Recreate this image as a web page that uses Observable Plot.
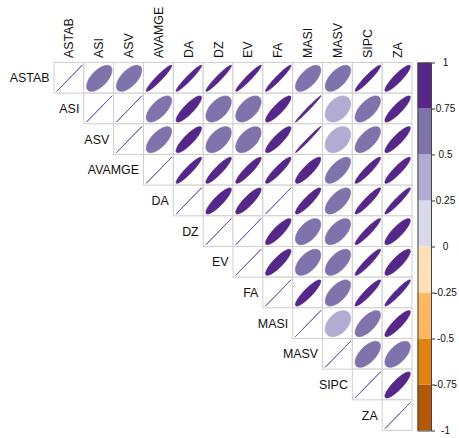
<!DOCTYPE html>
<html>
<head>
<meta charset="utf-8">
<script src="https://cdn.jsdelivr.net/npm/d3@7"></script>
<script src="https://cdn.jsdelivr.net/npm/@observablehq/plot@0.6"></script>
<style>
  body { margin: 0; background: white; }
  #chart { position: relative; width: 459px; height: 438px; }
  #chart svg { position: absolute; left: 0; top: 0; }
</style>
</head>
<body>
<div id="chart"></div>
<script>
// Variable names, in matrix order
const variables = ["ASTAB", "ASI", "ASV", "AVAMGE", "DA", "DZ", "EV", "FA", "MASI", "MASV", "SIPC", "ZA"];

// Upper-triangle correlations, one row per variable (from its diagonal to ZA)
const corASTAB  = [1, 0.62, 0.62, 0.95, 0.96, 0.96, 0.96, 0.96, 0.64, 0.62, 0.95, 0.90];
const corASI    = [1, 1.00, 0.66, 0.86, 0.55, 0.55, 0.87, 0.99, 0.40, 0.64, 0.88];
const corASV    = [1, 0.66, 0.86, 0.56, 0.56, 0.87, 0.99, 0.40, 0.64, 0.88];
const corAVAMGE = [1, 0.93, 0.91, 0.91, 0.92, 0.86, 0.68, 0.93, 0.91];
const corDA     = [1, 0.87, 0.87, 1.00, 0.90, 0.65, 0.93, 0.95];
const corDZ     = [1, 1.00, 0.86, 0.57, 0.60, 0.94, 0.85];
const corEV     = [1, 0.86, 0.57, 0.60, 0.94, 0.85];
const corFA     = [1, 0.89, 0.62, 0.93, 0.95];
const corMASI   = [1, 0.42, 0.68, 0.88];
const corMASV   = [1, 0.62, 0.60];
const corSIPC   = [1, 0.86];
const corZA     = [1];

const corRows = [corASTAB, corASI, corASV, corAVAMGE, corDA, corDZ, corEV, corFA, corMASI, corMASV, corSIPC, corZA];

// Colour key: bin edges, PuOr palette from -1 to 1, and tick labels
const breaks = [-1, -0.75, -0.5, -0.25, 0, 0.25, 0.5, 0.75, 1];
const palette = ["#b35806", "#e08214", "#fdb863", "#fee0b6", "#d8daeb", "#b2abd2", "#8073ac", "#542788"];
const tickLabels = ["-1", "-0.75", "-0.5", "-0.25", "0", "0.25", "0.5", "0.75", "1"];

const font = "'Liberation Sans', Arial, Helvetica, sans-serif";

// One record per upper-triangle cell
const cells = [];
corRows.forEach((row, i) => row.forEach((r, k) => cells.push({i, j: i + k, r})));

// Ellipse outline for correlation r, centred in its cell (corrplot style)
const ellipsePts = [];
const N = 99;
for (const c of cells) {
  const d = Math.acos(Math.max(-1, Math.min(1, c.r)));
  for (let n = 0; n < N; n++) {
    const t = (2 * Math.PI * n) / (N - 1);
    ellipsePts.push({
      key: `${c.i}-${c.j}`,
      r: c.r,
      x: c.j + 0.5 + 0.85 * Math.cos(t + d / 2) / 2,
      y: c.i + 0.5 - 0.85 * Math.cos(t - d / 2) / 2
    });
  }
}

const colorScale = {type: "threshold", domain: breaks.slice(1, -1), range: palette};

const main = Plot.plot({
  width: 459,
  height: 438,
  marginLeft: 54,
  marginRight: 47,
  marginTop: 62.5,
  marginBottom: 7.5,
  x: {domain: [0, 12], axis: null},
  y: {domain: [0, 12], reverse: true, axis: null},
  color: colorScale,
  style: {fontFamily: font, background: "white"},
  marks: [
    Plot.rect(cells, {x1: "j", x2: d => d.j + 1, y1: "i", y2: d => d.i + 1, fill: "white", stroke: "#d0d0d0", strokeWidth: 1}),
    Plot.line(ellipsePts, {x: "x", y: "y", z: "key", fill: "r", stroke: "r", strokeWidth: 0.7, curve: "linear-closed"}),
    Plot.text(variables, {x: (d, i) => i + 0.5, y: 0, text: d => d, rotate: -90, textAnchor: "start", dy: -5, fontSize: 12.4, fill: "#111"}),
    Plot.text(variables, {x: (d, i) => i, y: (d, i) => i + 0.5, text: d => d, textAnchor: "end", dx: -5, fontSize: 12.4, fill: "#111"})
  ]
});

const bins = palette.map((c, k) => ({lo: breaks[k], hi: breaks[k + 1], c}));

const key = Plot.plot({
  width: 459,
  height: 438,
  marginLeft: 417.5,
  marginRight: 28,
  marginTop: 62.5,
  marginBottom: 7.5,
  x: {domain: [0, 1], axis: null},
  y: {domain: [-1, 1], axis: null},
  style: {fontFamily: font, background: "transparent"},
  marks: [
    Plot.rect(bins, {x1: 0, x2: 1, y1: "lo", y2: "hi", fill: "c"}),
    Plot.frame({stroke: "#444", strokeWidth: 1}),
    Plot.axisY(breaks, {anchor: "right", tickSize: 3, tickPadding: 11, textAnchor: "middle", stroke: "#333",
      tickFormat: v => tickLabels[breaks.indexOf(v)], fontSize: 10, fill: "#111"})
  ]
});

document.getElementById("chart").append(main, key);
</script>
</body>
</html>
